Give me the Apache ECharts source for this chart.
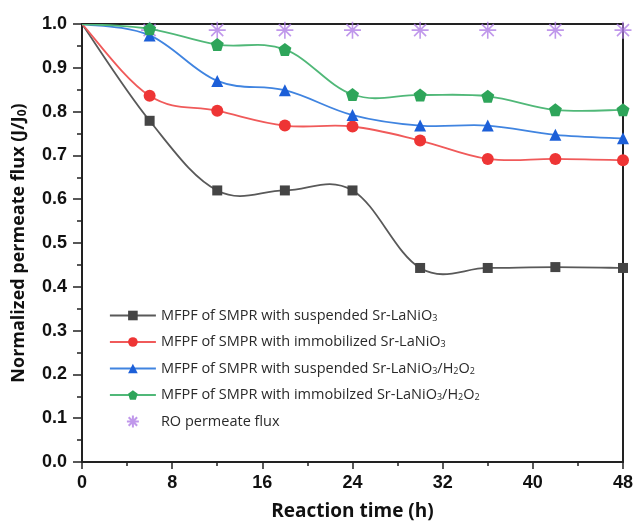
<!DOCTYPE html>
<html><head><meta charset="utf-8">
<script src="https://cdn.jsdelivr.net/npm/echarts@6/dist/echarts.min.js"></script>
<style>html,body{margin:0;padding:0;background:#fff}#c{width:636px;height:531px}</style>
</head><body><div id="c"></div>
<script>
const hours = [0, 6, 12, 18, 24, 30, 36, 42, 48];
const suspended = [1.0, 0.779, 0.620, 0.620, 0.620, 0.443, 0.443, 0.445, 0.443];
const immobilized = [1.0, 0.836, 0.802, 0.768, 0.766, 0.734, 0.692, 0.692, 0.689];
const suspendedH2O2 = [1.0, 0.974, 0.870, 0.849, 0.792, 0.768, 0.768, 0.747, 0.739];
const immobilizedH2O2 = [1.0, 0.989, 0.953, 0.942, 0.839, 0.838, 0.835, 0.804, 0.804];
const roHours = [6, 12, 18, 24, 30, 36, 42, 48];
const roFlux = [0.986, 0.986, 0.986, 0.986, 0.986, 0.986, 0.986, 0.986];
const names = [
  'MFPF of SMPR with suspended Sr-LaNiO{sub|3}',
  'MFPF of SMPR with immobilized Sr-LaNiO{sub|3}',
  'MFPF of SMPR with suspended Sr-LaNiO{sub|3}/H{sub|2}O{sub|2}',
  'MFPF of SMPR with immobilzed Sr-LaNiO{sub|3}/H{sub|2}O{sub|2}',
  'RO permeate flux'
];
const pair = (xs, arr) => xs.map((h, i) => [h, arr[i]]);
const pentagon = 'path://M0,-1 L0.951,-0.309 L0.588,0.809 L-0.588,0.809 L-0.951,-0.309 Z';
const star = 'path://M-1,0 L1,0 M0,-1 L0,1 M-0.707,-0.707 L0.707,0.707 M0.707,-0.707 L-0.707,0.707';

const chart = echarts.init(document.getElementById('c'));
const K = 1 / 5.5;
function curveSeries(id, data, color) {
  return {
    name: id, type: 'custom', data: pair(hours, data), silent: true, z: 2, clip: true,
    renderItem: (params, api) => {
      const i = params.dataIndexInside, n = params.dataInsideLength;
      if (i >= n - 1) return null;
      const c = k => { k = Math.max(0, Math.min(n - 1, k)); return api.coord([api.value(0, k), api.value(1, k)]); };
      const p0 = c(i - 1), p1 = c(i), p2 = c(i + 1), p3 = c(i + 2);
      return {
        type: 'bezierCurve',
        shape: {
          x1: p1[0], y1: p1[1], x2: p2[0], y2: p2[1],
          cpx1: p1[0] + (p2[0] - p0[0]) * K, cpy1: p1[1] + (p2[1] - p0[1]) * K,
          cpx2: p2[0] - (p3[0] - p1[0]) * K, cpy2: p2[1] - (p3[1] - p1[1]) * K
        },
        style: { stroke: color, lineWidth: 1.8, fill: null }
      };
    }
  };
}
function markSeries(name, data, markColor, symbol, size) {
  const d = pair(hours, data).map((p, i) => i === 0 ? { value: p, symbol: 'none' } : p);
  return {
    name, type: 'line', data: d, symbol, symbolSize: size,
    lineStyle: { opacity: 0 },
    itemStyle: { color: markColor },
    z: 3
  };
}
const lineColors = ['#595959', '#f05a5a', '#4084e0', '#50b878'];
const markColors = ['#454545', '#ee3535', '#1c5fd8', '#2ea55a'];
chart.setOption({
  animation: false,
  grid: { left: 82, right: 13, top: 24, bottom: 69 },
  xAxis: [{
    type: 'value', min: 0, max: 48, interval: 8,
    name: 'Reaction time (h)', nameLocation: 'middle', nameGap: 40,
    nameTextStyle: { fontFamily: 'Open Sans', fontWeight: 'bold', fontSize: 19, color: '#111' },
    axisLine: { lineStyle: { color: '#222', width: 2 } },
    axisTick: { inside: false, length: 7, lineStyle: { color: '#222', width: 1.5 } },
    minorTick: { show: true, splitNumber: 2, length: 4, lineStyle: { color: '#222', width: 1.5 } },
    axisLabel: { fontFamily: 'Liberation Sans', fontWeight: 'bold', fontSize: 18, color: '#111', margin: 12 },
    splitLine: { show: false }
  }, {
    type: 'value', min: 0, max: 48, position: 'top',
    axisLine: { show: true, onZero: false, lineStyle: { color: '#222', width: 2 } },
    axisTick: { show: false }, axisLabel: { show: false }, splitLine: { show: false }
  }],
  yAxis: [{
    type: 'value', min: 0, max: 1.0, interval: 0.1,
    name: 'Normalized permeate flux (J/J{sub|0})', nameLocation: 'middle', nameGap: 53,
    nameTextStyle: { fontFamily: 'Open Sans', fontWeight: 'bold', fontSize: 18, color: '#111', lineHeight: 20,
      rich: { sub: { fontFamily: 'Open Sans', fontWeight: 'bold', fontSize: 12, lineHeight: 10, verticalAlign: 'bottom' } } },
    axisLine: { show: true, lineStyle: { color: '#222', width: 2 } },
    axisTick: { inside: false, length: 9, lineStyle: { color: '#222', width: 1.5 } },
    minorTick: { show: true, splitNumber: 2, length: 5, lineStyle: { color: '#222', width: 1.5 } },
    axisLabel: { fontFamily: 'Liberation Sans', fontWeight: 'bold', fontSize: 18, color: '#111', margin: 15,
      formatter: v => v.toFixed(1) },
    splitLine: { show: false }
  }, {
    type: 'value', min: 0, max: 1.0, position: 'right',
    axisLine: { show: true, onZero: false, lineStyle: { color: '#222', width: 2 } },
    axisTick: { show: false }, axisLabel: { show: false }, splitLine: { show: false }
  }],
  legend: {
    orient: 'vertical', left: 104, top: 303,
    itemWidth: 46, itemHeight: 12, itemGap: 11.5,
    data: names.map((n, i) => i < 4 ? { name: n, lineStyle: { opacity: 1, color: lineColors[i], width: 1.8 } } : { name: n }),
    formatter: n => n,
    textStyle: { fontFamily: 'Open Sans', fontSize: 14.5, color: '#2a2a2a', lineHeight: 14,
      rich: { sub: { fontFamily: 'Open Sans', fontSize: 9, lineHeight: 7, verticalAlign: 'bottom' } } }
  },
  series: [
    curveSeries('c0', suspended, lineColors[0]),
    curveSeries('c1', immobilized, lineColors[1]),
    curveSeries('c2', suspendedH2O2, lineColors[2]),
    curveSeries('c3', immobilizedH2O2, lineColors[3]),
    markSeries(names[0], suspended, markColors[0], 'rect', 10),
    markSeries(names[1], immobilized, markColors[1], 'circle', 12),
    markSeries(names[2], suspendedH2O2, markColors[2], 'triangle', 12),
    markSeries(names[3], immobilizedH2O2, markColors[3], pentagon, 13),
    {
      name: names[4], type: 'scatter', data: pair(roHours, roFlux),
      symbol: star, symbolSize: 17,
      itemStyle: { color: 'rgba(0,0,0,0)', borderColor: '#b07ee6', borderWidth: 1.6 },
      z: 1
    }
  ]
});
</script></body></html>
